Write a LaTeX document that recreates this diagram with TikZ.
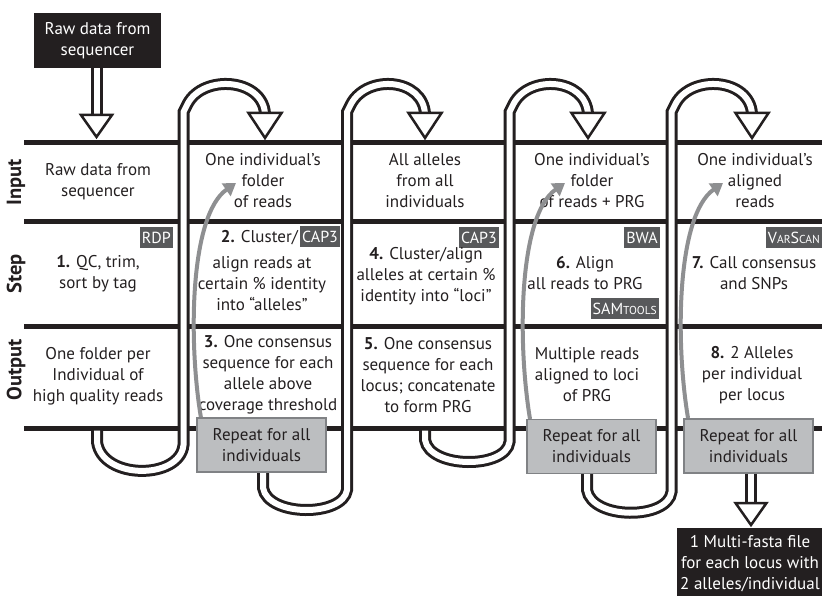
\documentclass[tikz,border=0pt]{standalone}
\usepackage{fontspec}
\setmainfont{PT Sans}
\usetikzlibrary{arrows.meta}
\definecolor{ink}{HTML}{231F20}
\definecolor{tagbg}{HTML}{58595B}
\definecolor{repbg}{HTML}{BCBEC0}
\definecolor{repline}{HTML}{808285}
\definecolor{garrow}{HTML}{8E8F91}
\newcommand{\smc}[1]{{\fontsize{11.5}{11.5}\selectfont #1}}
\begin{document}
\begin{tikzpicture}[x=1pt,y=-1pt,
  rule/.style={draw=ink,line width=5pt},
  pipe/.style={draw=ink,line width=3pt,double=white,double distance=6pt},
  headtri/.style={draw=ink,fill=white,line width=2.5pt,line join=miter},
  cell/.style={align=center,text=ink,inner sep=0pt,font=\fontsize{17}{21}\selectfont},
  rowlabel/.style={rotate=90,text=ink,inner sep=0pt,font=\bfseries\fontsize{20.5}{20.5}\selectfont},
  tag/.style={fill=tagbg,text=white,inner xsep=2pt,inner ysep=0pt,minimum height=21pt,font=\fontsize{16}{16}\selectfont},
  repbox/.style={fill=repbg,draw=repline,line width=1.5pt,align=center,text=ink,minimum width=129pt,minimum height=54pt,inner sep=0pt,font=\fontsize{17}{21}\selectfont},
  blackbox/.style={fill=ink,text=white,align=center,inner sep=0pt,font=\fontsize{17}{21}\selectfont},
  loop/.style={draw=garrow,line width=4pt,-{Triangle[length=12pt,width=15pt]}}
]
\useasboundingbox (0,0) rectangle (822,596);

% horizontal rules
\foreach \y in {143,222,326,428} \draw[rule] (24,\y) -- (822,\y);

% snake pipes
\draw[pipe] (97,430.5) -- (97,442) .. controls (102,480) and (180,480) .. (183.5,445) -- (183.5,112) -- (187.5,104) .. controls (203,74) and (263,78) .. (265,114);
\draw[pipe] (263,450) -- (263,488) .. controls (268,517) and (343,517) .. (347,490) -- (347,112) -- (351,104) .. controls (367,74) and (423,78) .. (425,114);
\draw[pipe] (425,430.5) -- (425,440) .. controls (430,469) and (506,469) .. (509.5,442) -- (509.5,112) -- (513.5,104) .. controls (529,74) and (586,78) .. (588,114);
\draw[pipe] (587,450) -- (587,490) .. controls (592,520) and (668,520) .. (671.5,492) -- (671.5,112) -- (675.5,104) .. controls (691,74) and (750,78) .. (752,114);

% arrow heads of the pipes
\foreach \x in {265,425,588,752}
  \draw[headtri] (\x-16.5,113) -- (\x+16.5,113) -- (\x,138) -- cycle;

% row labels
\node[rowlabel] (lin) at (16,182) {Input};
\node[rowlabel] (lst) at (16,274) {Step};
\node[rowlabel] (lout) at (16,370) {Output};

% column 1
\node[cell] (c1in) at (98,182) {Raw data from\\sequencer};
\node[cell] (c1st) at (98,274) {\textbf{1.} QC, trim,\\sort by tag};
\node[cell] (c1out) at (98,376) {One folder per\\Individual of\\high quality reads};
\node[tag,anchor=north east] (t1) at (173,227) {RDP};

% column 2
\node[cell] (c2in) at (263,181) {One individual’s\\folder\\of reads};
\node[cell,anchor=east] (c2a) at (298,238) {\textbf{2.} Cluster/};
\node[tag,anchor=west] (t2) at (300,237) {CAP3};
\node[cell] (c2st) at (262,284) {align reads at\\certain \% identity\\into “alleles”};
\node[cell] (c2out) at (268,375) {\textbf{3.} One consensus\\sequence for each\\allele above\\coverage threshold};

% column 3
\node[cell] (c3in) at (425,181) {All alleles\\from all\\individuals};
\node[tag,anchor=north east] (t3) at (499,227) {CAP3};
\node[cell] (c3st) at (426,276) {\textbf{4.} Cluster/align\\alleles at certain \%\\identity into “loci”};
\node[cell] (c3out) at (428,375) {\textbf{5.} One consensus\\sequence for each\\locus; concatenate\\to form PRG};

% column 4
\node[cell] (c4in) at (592,181) {One individual’s\\folder\\of reads + PRG};
\node[tag,anchor=north east] (t4) at (660,227) {BWA};
\node[cell] (c4st) at (585,273) {\textbf{6.} Align\\all reads to PRG};
\node[tag,anchor=north east] (t5) at (659,298) {SAM\smc{TOOLS}};
\node[cell] (c4out) at (587,375) {Multiple reads\\aligned to loci\\of PRG};

% column 5
\node[cell] (c5in) at (755,181) {One individual’s\\aligned\\reads};
\node[tag,anchor=north east] (t6) at (822,227) {V\smc{AR}S\smc{CAN}};
\node[cell] (c5st) at (754,273) {\textbf{7.} Call consensus\\and SNPs};
\node[cell] (c5out) at (752,375) {\textbf{8.} 2 Alleles\\per individual\\per locus};

% repeat loops
\coordinate (ra) at (201,418);
\coordinate (rb) at (530,419);
\coordinate (rc) at (688,418);
\draw[loop] (ra) .. controls (188,340) and (190,215) .. (236,183);
\draw[loop] (rb) .. controls (517,340) and (519,215) .. (565,183);
\draw[loop] (rc) .. controls (675,340) and (677,215) .. (723,183);

\node[repbox] (repA) at (261.5,445) {Repeat for all\\individuals};
\node[repbox] (repB) at (591.5,446.5) {Repeat for all\\individuals};
\node[repbox] (repC) at (748.5,446) {Repeat for all\\individuals};

% raw data box and input arrow
\node[blackbox,minimum width=127pt,minimum height=55pt] (raw) at (97.5,40.5) {Raw data from\\sequencer};
\draw[pipe] (raw.south -| 96.5,0) -- (96.5,116);
\draw[headtri] (81,115) -- (112,115) -- (96.5,137) -- cycle;

% output arrow and final box
\node[blackbox,minimum width=153pt,minimum height=72pt] (outbox) at (753.5,564) {};
\node[cell,text=white] (outtext) at (750,564) {1 Multi-fasta file\\for each locus with\\2 alleles/individual};
\draw[pipe] (repC.south -| 751,0) -- (751,504);
\draw[headtri] (735.5,503) -- (766.5,503) -- (751,525) -- cycle;
\end{tikzpicture}
\end{document}
